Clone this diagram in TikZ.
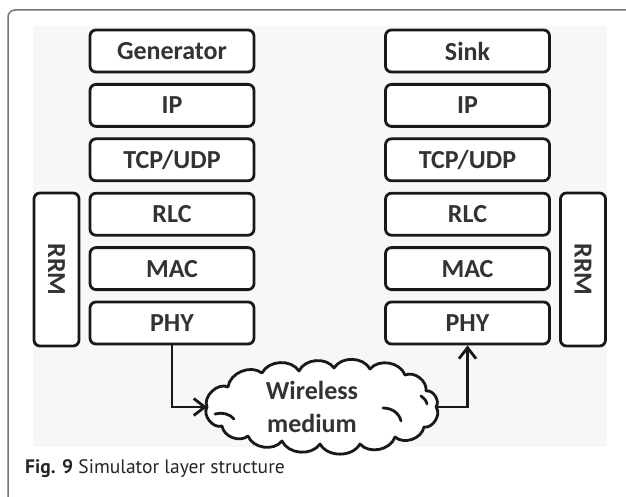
\documentclass[tikz,border=0pt]{standalone}
\usepackage{fontspec}
\setmainfont{Carlito}
\newfontfamily\capfont{PT Sans}
\usetikzlibrary{arrows.meta}
\begin{document}
\begin{tikzpicture}[x=1pt,y=-1pt,
  layer/.style={draw=black!90, line width=2.8pt, rounded corners=6pt, fill=white,
    minimum width=164pt, minimum height=42pt, inner sep=0pt,
    font=\fontsize{26}{28}\selectfont\bfseries, text=black!80},
  rrm/.style={layer, minimum width=45pt, minimum height=153pt},
  arr/.style={draw=black!90, line width=2.8pt, -{Straight Barb[length=11pt,width=17pt]}},
  cloudline/.style={draw=black!90, line width=2.8pt, line cap=round, line join=round},
  captext/.style={anchor=base west, inner sep=0pt, font=\capfont\fontsize{19.5}{23}\selectfont, text=black!85}]
\useasboundingbox (0,0) rectangle (626,497);
\fill[white] (0,0) rectangle (626,497);
\fill[black!3] (33,26) rectangle (607,447);
\draw[black!55, line width=1.5pt, rounded corners=7pt] (8,497) -- (8,10) -- (626,10);

\node[layer] (lgen) at (172,51)    {Generator};
\node[layer] (lip)  at (172,105.4) {IP};
\node[layer] (ltcp) at (172,159.8) {TCP/UDP};
\node[layer] (lrlc) at (172,214.2) {RLC};
\node[layer] (lmac) at (172,268.6) {MAC};
\node[layer] (lphy) at (172,323)   {PHY};
\node[rrm]   (lrrm) at (56.5,269.5) {\rotatebox{-90}{RRM}};

\node[layer] (rsink) at (467.5,51)    {Sink};
\node[layer] (rip)   at (467.5,105.4) {IP};
\node[layer] (rtcp)  at (467.5,159.8) {TCP/UDP};
\node[layer] (rrlc)  at (467.5,214.2) {RLC};
\node[layer] (rmac)  at (467.5,268.6) {MAC};
\node[layer] (rphy)  at (467.5,323)   {PHY};
\node[rrm]   (rrrm)  at (583,269.5) {\rotatebox{-90}{RRM}};

% cloud outline
\coordinate (cw) at (207,407);
\coordinate (ce) at (436,407);
\draw[cloudline, fill=white]
  (cw) to[bend left=70] (228,387) to[bend left=60] (262,373)
  to[bend left=60] (299,371) to[bend left=60] (334,368)
  to[bend left=60] (370,369) to[bend left=60] (405,375)
  to[bend left=60] (426,391) to[bend left=70] (ce)
  to[bend left=70] (424,427) to[bend left=60] (395,437)
  to[bend left=60] (360,444) to[bend left=60] (320,444)
  to[bend left=60] (282,441) to[bend left=60] (248,436)
  to[bend left=60] (222,426) to[bend left=70] (cw) -- cycle;
\draw[cloudline]
  (215,414) .. controls (222,412) and (230,414) .. (234,419)
  (383,408) .. controls (392,408) and (399,413) .. (401,421)
  (421,396) .. controls (424,398) and (426,400) .. (427,404);
\node[align=center, inner sep=0pt, font=\fontsize{26}{33}\selectfont\bfseries, text=black!80]
  (cltext) at (312,407) {Wireless\\medium};

\draw[arr] (lphy.south) |- (cw);
\draw[arr] (ce) -| (rphy.south);

\node[captext] (caption) at (25,473) {{\bfseries Fig. 9} Simulator layer structure};
\end{tikzpicture}
\end{document}
